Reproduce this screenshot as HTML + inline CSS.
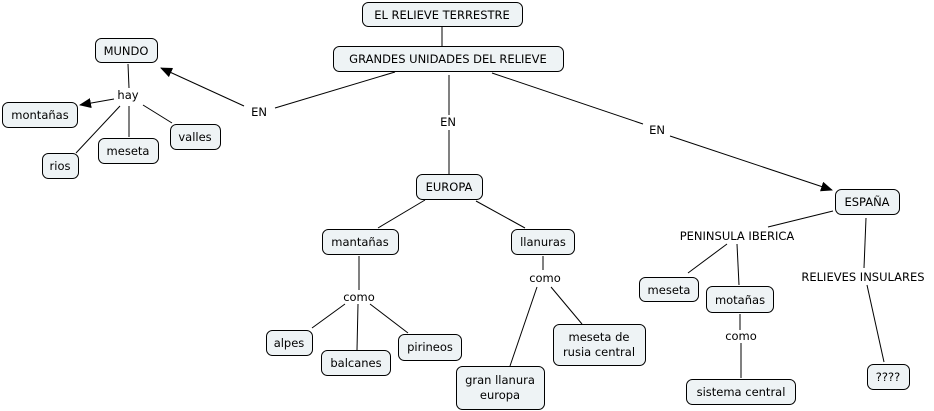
<!DOCTYPE html>
<html><head><meta charset="utf-8"><style>
html,body{margin:0;padding:0;background:#fff}
svg{display:block}
text{font-family:"DejaVu Sans","Liberation Sans",sans-serif;font-size:11.5px;fill:#000}
rect{fill:#eef3f5;stroke:#000;stroke-width:1}
line{stroke:#000;stroke-width:1}
</style></head><body>
<svg width="934" height="411" viewBox="0 0 934 411">
<defs><marker id="a" markerWidth="12" markerHeight="10" refX="11" refY="5" orient="auto" markerUnits="userSpaceOnUse"><path d="M0,0 L12,5 L0,10 z" fill="#000"/></marker></defs>
<g>
<line x1="442" y1="27" x2="442" y2="46"/>
<line x1="395" y1="72" x2="275" y2="108"/>
<line x1="244" y1="106" x2="161" y2="68" marker-end="url(#a)"/>
<line x1="449" y1="75" x2="449" y2="115"/>
<line x1="449" y1="130" x2="449" y2="174"/>
<line x1="492" y1="73" x2="643" y2="124"/>
<line x1="670" y1="136" x2="832" y2="190" marker-end="url(#a)"/>
<line x1="128" y1="64" x2="129" y2="88"/>
<line x1="114" y1="99" x2="80" y2="105" marker-end="url(#a)"/>
<line x1="120" y1="106" x2="76" y2="153"/>
<line x1="129" y1="106" x2="129" y2="137"/>
<line x1="143" y1="105" x2="172" y2="123"/>
<line x1="425" y1="200" x2="378" y2="228"/>
<line x1="476" y1="201" x2="525" y2="228"/>
<line x1="359" y1="256" x2="359" y2="290"/>
<line x1="345" y1="304" x2="312" y2="328"/>
<line x1="358" y1="304" x2="357" y2="350"/>
<line x1="370" y1="304" x2="408" y2="333"/>
<line x1="543" y1="256" x2="543" y2="270"/>
<line x1="537" y1="287" x2="510" y2="366"/>
<line x1="551" y1="287" x2="582" y2="324"/>
<line x1="833" y1="211" x2="768" y2="227"/>
<line x1="727" y1="244" x2="688" y2="273"/>
<line x1="737" y1="244" x2="739" y2="285"/>
<line x1="740" y1="314" x2="740" y2="330"/>
<line x1="741" y1="343" x2="741" y2="378"/>
<line x1="866" y1="218" x2="864" y2="268"/>
<line x1="867" y1="285" x2="884" y2="362"/>
</g>
<g>
<rect x="362.5" y="2.5" width="160" height="24" rx="6"/>
<rect x="333.5" y="46.5" width="230" height="25" rx="6"/>
<rect x="95.5" y="38.5" width="62" height="24" rx="6"/>
<rect x="2.5" y="102.5" width="75" height="25" rx="6"/>
<rect x="42.5" y="153.5" width="36" height="25" rx="6"/>
<rect x="98.5" y="138.5" width="60" height="25" rx="6"/>
<rect x="170.5" y="124.5" width="50" height="25" rx="6"/>
<rect x="416.5" y="174.5" width="66" height="25" rx="6"/>
<rect x="835.5" y="189.5" width="64" height="25" rx="6"/>
<rect x="322.5" y="229.5" width="76" height="25" rx="6"/>
<rect x="511.5" y="229.5" width="63" height="25" rx="6"/>
<rect x="266.5" y="330.5" width="46" height="25" rx="6"/>
<rect x="321.5" y="350.5" width="69" height="25" rx="6"/>
<rect x="398.5" y="334.5" width="63" height="26" rx="6"/>
<rect x="456.5" y="366.5" width="88" height="43" rx="6"/>
<rect x="553.5" y="324.5" width="92" height="41" rx="6"/>
<rect x="639.5" y="277.5" width="59" height="24" rx="6"/>
<rect x="706.5" y="286.5" width="67" height="26" rx="6"/>
<rect x="686.5" y="379.5" width="109" height="25" rx="6"/>
<rect x="867.5" y="364.5" width="42" height="25" rx="6"/>
</g>
<g text-anchor="middle">
<text x="442" y="19">EL RELIEVE TERRESTRE</text>
<text x="448" y="63">GRANDES UNIDADES DEL RELIEVE</text>
<text x="126" y="55">MUNDO</text>
<text x="40" y="119">montañas</text>
<text x="60" y="170">rios</text>
<text x="128" y="155">meseta</text>
<text x="195" y="141">valles</text>
<text x="128" y="99">hay</text>
<text x="259" y="116">EN</text>
<text x="448" y="126">EN</text>
<text x="657" y="134">EN</text>
<text x="449" y="191">EUROPA</text>
<text x="867" y="206">ESPAÑA</text>
<text x="360" y="246">mantañas</text>
<text x="543" y="246">llanuras</text>
<text x="359" y="301">como</text>
<text x="545" y="282">como</text>
<text x="289" y="347">alpes</text>
<text x="356" y="367">balcanes</text>
<text x="430" y="351">pirineos</text>
<text x="500" y="384">gran llanura</text>
<text x="500" y="399">europa</text>
<text x="599" y="341">meseta de</text>
<text x="599" y="356">rusia central</text>
<text x="737" y="240">PENINSULA IBERICA</text>
<text x="863" y="281">RELIEVES INSULARES</text>
<text x="669" y="294">meseta</text>
<text x="740" y="304">motañas</text>
<text x="741" y="340">como</text>
<text x="741" y="396">sistema central</text>
<text x="888" y="381">????</text>
</g>
</svg>
</body></html>
